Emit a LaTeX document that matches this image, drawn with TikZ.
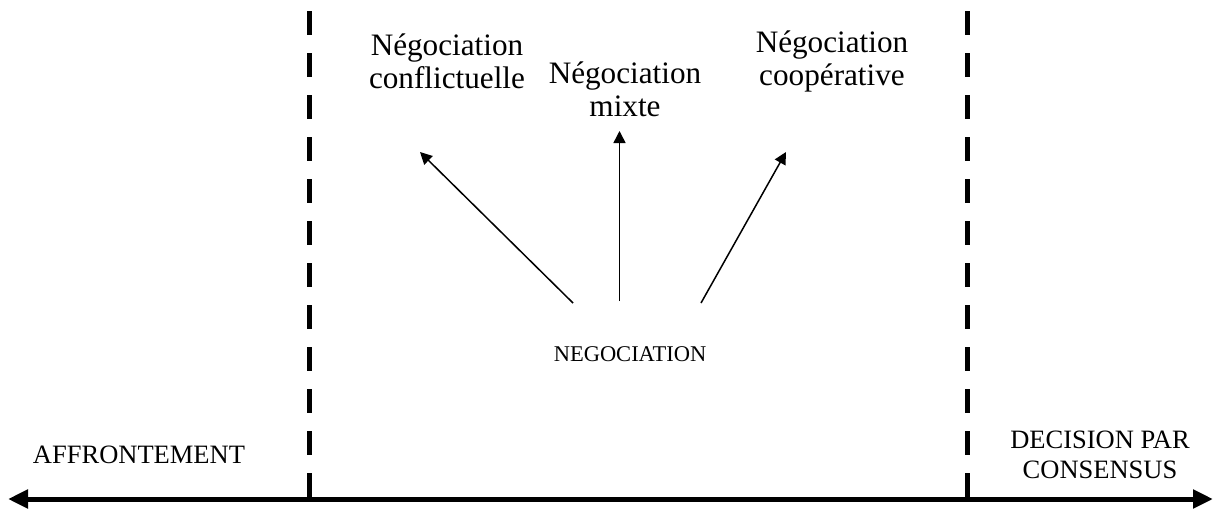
\documentclass[tikz,border=0pt]{standalone}
\usepackage{fontspec}
\setmainfont{Liberation Serif}
\usetikzlibrary{arrows.meta}
\begin{document}
\begin{tikzpicture}[x=1pt,y=-1pt,
  lbl/.style={font=\fontsize{31.2}{33}\selectfont, align=center, inner sep=0pt},
  caplbl/.style={font=\fontsize{26.5}{30}\selectfont, align=center, inner sep=0pt},
  divider/.style={line width=5.5pt, dash pattern=on 24pt off 18pt},
  axisline/.style={line width=5pt, {Triangle[length=20pt,width=18pt]}-{Triangle[length=20pt,width=18pt]}},
  branch/.style={line width=1.5pt, -{Triangle[length=12pt,width=12pt]}}]
\useasboundingbox (0,0) rectangle (1216,509);
% axis
\coordinate (axL) at (8,499);
\coordinate (axR) at (1213,499);
\draw[axisline] (axL) -- (axR);
% dividers
\coordinate (d1t) at (309.5,11);
\coordinate (d1b) at (309.5,499);
\coordinate (d2t) at (967.5,11);
\coordinate (d2b) at (967.5,499);
\draw[divider] (d1t) -- (d1b);
\draw[divider] (d2t) -- (d2b);
% labels
\node[lbl] (conf) at (447,61) {Négociation\\conflictuelle};
\node[lbl] (mixte) at (625,89) {Négociation\\mixte};
\node[lbl] (coop) at (832,61) {Négociation\\coopérative};
\node[caplbl, font=\fontsize{22.5}{27}\selectfont] (neg) at (630,354) {NEGOCIATION};
\node[caplbl] (aff) at (139,455) {AFFRONTEMENT};
\node[caplbl] (dec) at (1100,455) {DECISION PAR\\CONSENSUS};
% branches
\coordinate (s1) at (573,303);
\coordinate (s2) at (619.5,301);
\coordinate (s3) at (701,303);
\coordinate (t1) at (420,152);
\coordinate (t2) at (619.5,131);
\coordinate (t3) at (786,152);
\draw[branch] (s1) -- (t1);
\draw[branch] (s2) -- (t2);
\draw[branch] (s3) -- (t3);
\end{tikzpicture}
\end{document}
